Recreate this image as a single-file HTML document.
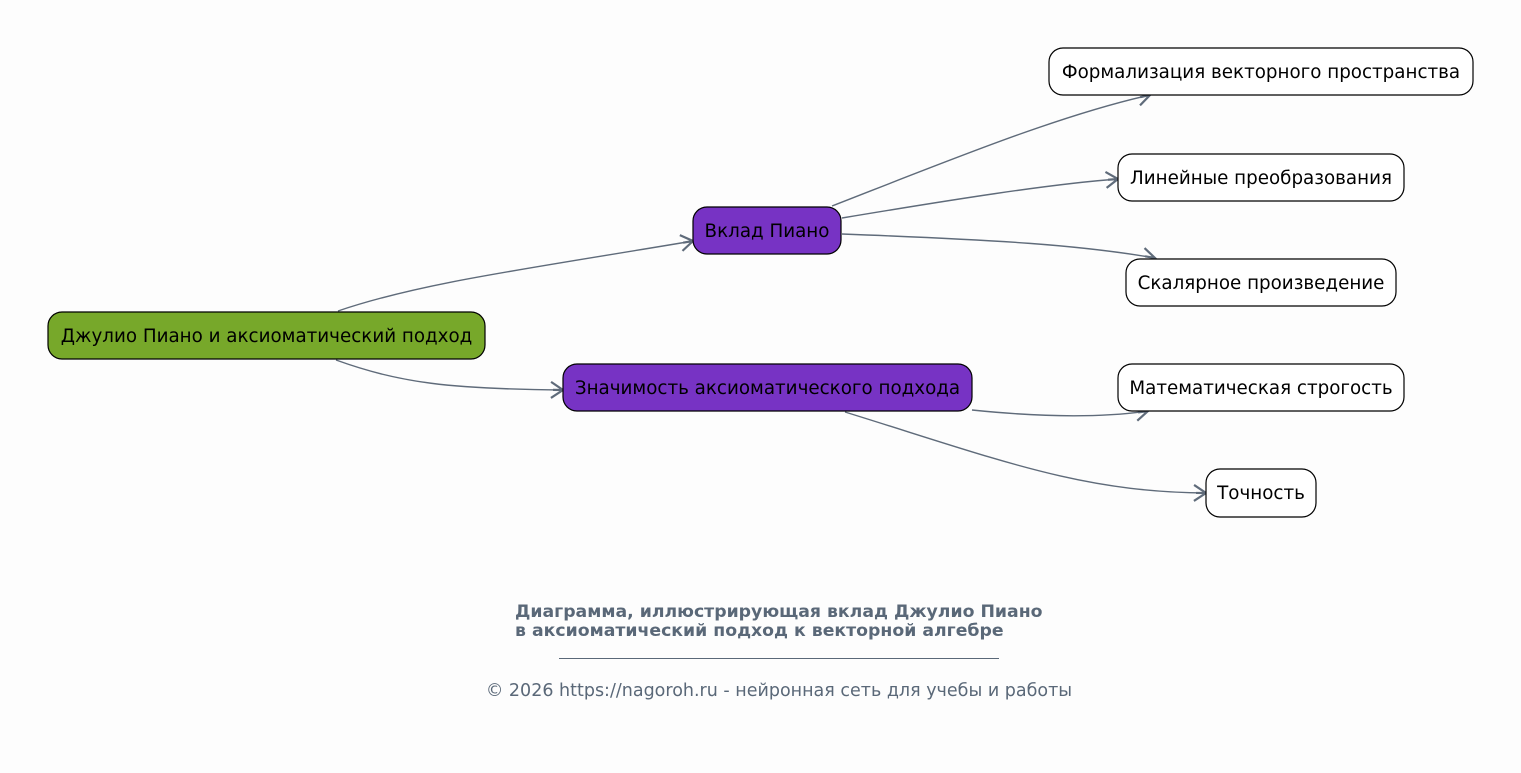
<!DOCTYPE html>
<html><head><meta charset="utf-8"><style>
html,body{margin:0;padding:0;background:#fdfdfd;}
svg{display:block;}
text{font-family:"DejaVu Sans","Liberation Sans",sans-serif;}
</style></head><body>
<svg width="1521" height="773" viewBox="0 0 1521 773" xmlns="http://www.w3.org/2000/svg">
<defs>
<marker id="a" markerUnits="userSpaceOnUse" markerWidth="30" markerHeight="30" refX="15" refY="15" orient="auto" viewBox="0 0 30 30">
<path d="M3,7 L15,15 L3,23 M5,15 L15,15" fill="none" stroke="#5f6b7a" stroke-width="2.2" stroke-linejoin="miter"/>
</marker>
</defs>
<rect width="1521" height="773" fill="#fdfdfd"/>
<g fill="none" stroke="#5f6b7a" stroke-width="1.4" marker-end="url(#a)">
<path d="M338,311 C420,283 520,270 693,241"/>
<path d="M336,360 C400,383 450,389 563,390"/>
<path d="M832,206 C950,160 1060,115 1150,95"/>
<path d="M842,218 C950,200 1050,184 1118,179"/>
<path d="M842,234 C1000,240 1080,245 1155,258"/>
<path d="M972,410 C1040,417 1100,418 1148,411"/>
<path d="M845,412 C1000,460 1080,492 1206,493"/>
</g>
<g stroke="#000" stroke-width="1.2">
<rect x="48" y="312" width="437" height="47" rx="14" fill="#77a82a"/>
<rect x="693" y="207" width="148" height="47" rx="14" fill="#7733c4"/>
<rect x="563" y="364" width="409" height="47" rx="14" fill="#7733c4"/>
<rect x="1049" y="48" width="424" height="47" rx="14" fill="#fff"/>
<rect x="1118" y="154" width="286" height="47" rx="14" fill="#fff"/>
<rect x="1126" y="259" width="270" height="47" rx="14" fill="#fff"/>
<rect x="1118" y="364" width="286" height="47" rx="14" fill="#fff"/>
<rect x="1206" y="469" width="110" height="48" rx="14" fill="#fff"/>
</g>
<g font-size="18.3" fill="#000" text-anchor="middle">
<text x="266.5" y="342">Джулио Пиано и аксиоматический подход</text>
<text x="767" y="237">Вклад Пиано</text>
<text x="767.5" y="394">Значимость аксиоматического подхода</text>
<text x="1261" y="78">Формализация векторного пространства</text>
<text x="1261" y="184">Линейные преобразования</text>
<text x="1261" y="289">Скалярное произведение</text>
<text x="1261" y="394">Математическая строгость</text>
<text x="1261" y="499">Точность</text>
</g>
<g fill="#5a6878">
<text x="515" y="617" font-size="17.3" font-weight="bold">Диаграмма, иллюстрирующая вклад Джулио Пиано</text>
<text x="515" y="636" font-size="17.3" font-weight="bold">в аксиоматический подход к векторной алгебре</text>
<text x="779" y="696" font-size="17.5" text-anchor="middle">© 2026 https://nagoroh.ru - нейронная сеть для учебы и работы</text>
</g>
<line x1="559" y1="658.5" x2="999" y2="658.5" stroke="#5a6878" stroke-width="1"/>
</svg>
</body></html>
